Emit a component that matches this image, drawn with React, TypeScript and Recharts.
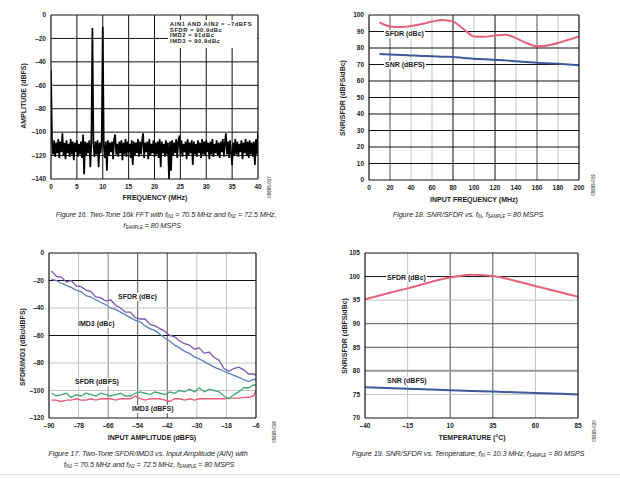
import React from 'react';
import { LineChart, Line, XAxis, YAxis, ReferenceLine } from 'recharts';

// Figure 16: two-tone FFT, amplitude (dBFS) every 0.2 MHz from 0 to 40 MHz
const fftStep = 0.2;
const fftAmp = [
    -47, -108, -119, -107, -121, -109, -118, -106, -122, -108,
    -117, -101, -120, -109, -123, -107, -118, -110, -121, -106,
    -119, -108, -124, -109, -117, -107, -121, -110, -119, -108,
    -122, -102, -136, -108, -120, -109, -118, -107, -130, -109,
    -11, -110, -121, -108, -119, -107, -130, -109, -118, -106,
    -10, -111, -122, -108, -133, -107, -120, -109, -117, -108,
    -123, -106, -102, -119, -110, -121, -108, -118, -107, -124,
    -109, -119, -106, -121, -108, -117, -110, -122, -107, -128,
    -108, -120, -109, -118, -106, -121, -108, -119, -107, -101,
    -122, -109, -117, -108, -123, -106, -120, -110, -118, -107,
    -121, -109, -119, -108, -122, -106, -130, -108, -118, -110,
    -121, -107, -119, -109, -140, -108, -133, -107, -120, -109,
    -118, -106, -122, -108, -103, -119, -107, -121, -110, -117,
    -108, -123, -106, -120, -109, -118, -107, -128, -108, -119,
    -110, -121, -107, -118, -109, -122, -106, -119, -108, -120,
    -107, -117, -109, -123, -108, -119, -106, -121, -110, -118,
    -107, -120, -109, -122, -108, -117, -106, -121, -109, -101,
    -119, -108, -122, -107, -118, -128, -109, -120, -106, -119,
    -108, -121, -110, -117, -107, -123, -109, -118, -106, -120,
    -108, -122, -107, -119, -109, -121, -108, -128, -106, -119,
    -101,
];
const fftNotes = ['AIN1 AND AIN2 = –7dBFS', 'SFDR = 90.9dBc', 'IMD2 = 91dBc', 'IMD3 = 90.9dBc'];

// Figure 18: SNR/SFDR vs input frequency
const inFreq = [10, 20, 30, 40, 50, 60, 70, 80, 90, 100, 110, 120, 130, 140, 150, 160, 170, 180, 190, 200];
const sfdrVsFreq = [95.6, 93.1, 92.7, 93.3, 94.5, 96, 97, 96, 91.5, 87, 86.8, 87.5, 88, 86, 83, 81, 81.5, 83, 85, 87];
const snrVsFreq = [76.3, 76, 75.8, 75.5, 75.2, 75, 74.7, 74.5, 74, 73.5, 73.2, 72.8, 72.5, 72, 71.5, 71, 70.7, 70.4, 70, 69.5];

// Figure 17: two-tone SFDR/IMD3 vs input amplitude
const ampIn = [
    -89, -87, -85, -83, -81, -79, -77, -75, -73, -71, -69, -67, -65, -63, -61, -59, -57, -55, -53, -51, -49,
    -47, -45, -43, -41, -39, -37, -35, -33, -31, -29, -27, -25, -23, -21, -19, -17, -15, -13, -11, -9, -7, -6,
];
const sfdrDbc = [
    -13, -17, -17.5, -21, -20, -24, -24.5, -27, -28, -32, -32.5, -35, -34, -38, -40, -43, -43, -47, -48, -48, -52,
    -53, -55, -57, -60, -61, -64, -66, -67, -70, -69, -73, -72, -76, -78, -84, -86, -84, -83, -85, -88, -88, -89,
];
const imd3Dbc = [
    -19, -20, -22, -23.5, -25, -27, -28, -31, -32, -34, -36, -37.5, -40, -41, -43, -45, -47, -49, -50, -53, -55,
    -56.5, -59, -62, -64, -67, -69, -71.5, -73, -75.5, -77, -79, -81, -83, -84.5, -86, -87.5, -89, -90.5, -92, -93.5, -92, -92,
];
const sfdrDbfs = [
    -102, -104, -103, -102, -105, -103, -104, -102, -103, -104, -102, -103, -104, -103, -102, -104, -104, -102, -101, -102, -103,
    -101, -102, -103, -101, -102, -100, -101, -99, -101, -98, -101, -99, -100, -101, -104, -106, -103, -101, -98, -98, -96, -96,
];
const imd3Dbfs = [
    -107, -107, -108, -107, -107, -106, -107, -107, -106, -107, -106, -106, -106, -107, -106, -106, -106, -104, -106, -107, -106,
    -106, -106, -107, -108, -106, -106, -107, -106, -107, -106, -106, -106, -106, -106, -106, -105.5, -105.5, -105.5, -105, -105, -104, -100,
];

// Figure 19: SNR/SFDR vs temperature
const temps = [-40, -15, 10, 22.5, 35, 60, 85];
const sfdrVsTemp = [95.2, 97.5, 99.8, 100.4, 100.1, 98, 95.7];
const snrVsTemp = [76.5, 76.2, 75.9, 75.75, 75.6, 75.3, 75.0];

const FONT = '"Liberation Sans", Arial, Helvetica, sans-serif';
const tickStyle = { fill: '#1c1c1c', fontSize: 6.5, fontWeight: 700, fontFamily: FONT };
const fmt = (v: number) => (v < 0 ? `–${Math.abs(v)}` : `${v}`);

const BLACK = '#111';
const DARK = '#555';
const LIGHT = '#c4c4c4';

const vLines = (lines: [number, string, number?][]) =>
    lines.map(([v, c, w]) => <ReferenceLine key={`v${v}`} x={v} stroke={c} strokeWidth={w || 1} />);
const hLines = (lines: [number, string, number?][]) =>
    lines.map(([v, c, w]) => <ReferenceLine key={`h${v}`} y={v} stroke={c} strokeWidth={w || 1} />);

type PanelProps = {
    left: number;
    top: number;
    w: number;
    h: number;
    data: any[];
    xDomain: [number, number];
    yDomain: [number, number];
    xTicks: number[];
    yTicks: number[];
    children: React.ReactNode;
};

const Panel = ({ left, top, w, h, data, xDomain, yDomain, xTicks, yTicks, children }: PanelProps) => (
    <div style={{ position: 'absolute', left: left - 45, top: top - 10 }}>
        <LineChart width={w + 55} height={h + 30} data={data} margin={{ top: 10, right: 10, bottom: 0, left: 0 }}>
            <XAxis
                type="number"
                dataKey="x"
                domain={xDomain}
                ticks={xTicks}
                allowDataOverflow
                axisLine={false}
                tickLine={false}
                tickSize={3}
                height={20}
                tick={tickStyle}
                tickFormatter={fmt}
                interval={0}
            />
            <YAxis
                type="number"
                domain={yDomain}
                ticks={yTicks}
                allowDataOverflow
                axisLine={false}
                tickLine={false}
                tickSize={3}
                width={45}
                tick={tickStyle}
                tickFormatter={fmt}
                interval={0}
            />
            {children}
            <ReferenceLine x={xDomain[0]} stroke={BLACK} strokeWidth={1.2} />
            <ReferenceLine x={xDomain[1]} stroke={BLACK} strokeWidth={1.2} />
            <ReferenceLine y={yDomain[0]} stroke={BLACK} strokeWidth={1.2} />
            <ReferenceLine y={yDomain[1]} stroke={BLACK} strokeWidth={1.2} />
        </LineChart>
    </div>
);

const Tag = ({ x, y, text }: { x: number; y: number; text: string }) => (
    <div
        style={{
            position: 'absolute',
            left: x,
            top: y,
            transform: 'translateY(-50%)',
            background: '#fff',
            padding: '0 1px',
            fontFamily: FONT,
            fontSize: 7,
            fontWeight: 700,
            color: '#1c1c1c',
            lineHeight: '8px',
            whiteSpace: 'nowrap',
        }}
    >
        {text}
    </div>
);

const AxisTitle = ({ x, y, text, rotate }: { x: number; y: number; text: string; rotate?: boolean }) => (
    <div
        style={{
            position: 'absolute',
            left: x,
            top: y,
            transform: `translate(-50%, -50%)${rotate ? ' rotate(-90deg)' : ''}`,
            fontFamily: FONT,
            fontSize: 7,
            fontWeight: 700,
            color: '#1c1c1c',
            whiteSpace: 'nowrap',
        }}
    >
        {text}
    </div>
);

const Caption = ({ x, y, children }: { x: number; y: number; children: React.ReactNode }) => (
    <div
        style={{
            position: 'absolute',
            left: x,
            top: y,
            transform: 'translate(-50%, -50%)',
            fontFamily: FONT,
            fontSize: 7.4,
            fontStyle: 'italic',
            color: '#2a2a2a',
            whiteSpace: 'nowrap',
            letterSpacing: '-0.15px',
        }}
    >
        {children}
    </div>
);

const Sub = ({ t }: { t: string }) => <sub style={{ fontSize: 4.5, verticalAlign: '-1px' }}>{t}</sub>;

const FigId = ({ x, y, text }: { x: number; y: number; text: string }) => (
    <div
        style={{
            position: 'absolute',
            left: x,
            top: y,
            transform: 'translate(-50%, -50%) rotate(-90deg)',
            fontFamily: FONT,
            fontSize: 4.5,
            fontWeight: 700,
            color: '#666',
            whiteSpace: 'nowrap',
        }}
    >
        {text}
    </div>
);

const App = () => {
    const fftData = fftAmp.map((a, i) => ({ x: Math.round(i * fftStep * 10) / 10, a }));
    const freqData = inFreq.map((x, i) => ({ x, sfdr: sfdrVsFreq[i], snr: snrVsFreq[i] }));
    const ampData = ampIn.map((x, i) => ({
        x,
        sfdrDbc: sfdrDbc[i],
        imd3Dbc: imd3Dbc[i],
        sfdrDbfs: sfdrDbfs[i],
        imd3Dbfs: imd3Dbfs[i],
    }));
    const tempData = temps.map((x, i) => ({ x, sfdr: sfdrVsTemp[i], snr: snrVsTemp[i] }));

    return (
        <div style={{ position: 'absolute', left: 0, top: 0, width: 620, height: 479, background: '#fff', overflow: 'hidden' }}>
            {/* Figure 16 */}
            <Panel
                left={51}
                top={15}
                w={207}
                h={164}
                data={fftData}
                xDomain={[0, 40]}
                yDomain={[-140, 0]}
                xTicks={[0, 5, 10, 15, 20, 25, 30, 35, 40]}
                yTicks={[0, -20, -40, -60, -80, -100, -120, -140]}
            >
                {vLines([[5, BLACK], [10, BLACK], [15, BLACK], [20, BLACK], [25, BLACK], [30, BLACK], [35, BLACK]])}
                {hLines([[-20, BLACK], [-40, BLACK], [-60, BLACK], [-80, BLACK], [-100, BLACK], [-120, BLACK]])}
                <Line type="linear" dataKey="a" stroke="#000" strokeWidth={1.7} dot={false} isAnimationActive={false} />
            </Panel>
            <div
                style={{
                    position: 'absolute',
                    left: 168,
                    top: 20,
                    width: 89,
                    height: 28,
                    background: '#fff',
                    fontFamily: FONT,
                    fontSize: 5.8,
                    fontWeight: 700,
                    lineHeight: '5.7px',
                    letterSpacing: '0.55px',
                    color: '#1c1c1c',
                    paddingLeft: 2,
                    paddingTop: 2,
                    boxSizing: 'border-box',
                    whiteSpace: 'nowrap',
                }}
            >
                {fftNotes.map((n) => (
                    <div key={n}>{n}</div>
                ))}
            </div>
            <AxisTitle x={23} y={96} text="AMPLITUDE (dBFS)" rotate />
            <AxisTitle x={155} y={197} text="FREQUENCY (MHz)" />
            <Caption x={166} y={214}>
                Figure 16. Two-Tone 16k FFT with f<Sub t="IN1" /> = 70.5 MHz and f<Sub t="IN2" /> = 72.5 MHz,
            </Caption>
            <Caption x={152} y={225}>
                f<Sub t="SAMPLE" /> = 80 MSPS
            </Caption>
            <FigId x={269} y={187} text="05695-017" />

            {/* Figure 18 */}
            <Panel
                left={369}
                top={15}
                w={210}
                h={165}
                data={freqData}
                xDomain={[0, 200]}
                yDomain={[0, 100]}
                xTicks={[0, 20, 40, 60, 80, 100, 120, 140, 160, 180, 200]}
                yTicks={[0, 10, 20, 30, 40, 50, 60, 70, 80, 90, 100]}
            >
                {vLines([[20, DARK], [40, LIGHT], [60, LIGHT], [80, BLACK], [100, LIGHT], [120, BLACK], [140, LIGHT], [160, DARK], [180, LIGHT]])}
                {hLines([[10, BLACK], [20, BLACK], [30, BLACK], [40, BLACK], [50, BLACK], [60, BLACK], [70, BLACK], [80, BLACK], [90, BLACK]])}
                <Line type="monotone" dataKey="sfdr" stroke="#e8607e" strokeWidth={2} dot={false} isAnimationActive={false} />
                <Line type="monotone" dataKey="snr" stroke="#3a5a9c" strokeWidth={2} dot={false} isAnimationActive={false} />
            </Panel>
            <Tag x={384} y={34} text="SFDR (dBc)" />
            <Tag x={384} y={65} text="SNR (dBFS)" />
            <AxisTitle x={342} y={98} text="SNR/SFDR (dBFS/dBc)" rotate />
            <AxisTitle x={474} y={199} text="INPUT FREQUENCY (MHz)" />
            <Caption x={468} y={214}>
                Figure 18. SNR/SFDR vs. f<Sub t="IN" />, f<Sub t="SAMPLE" /> = 80 MSPS
            </Caption>
            <FigId x={593} y={185} text="05695-019" />

            {/* Figure 17 */}
            <Panel
                left={49}
                top={253}
                w={207}
                h={165}
                data={ampData}
                xDomain={[-90, -6]}
                yDomain={[-120, 0]}
                xTicks={[-90, -78, -66, -54, -42, -30, -18, -6]}
                yTicks={[0, -20, -40, -60, -80, -100, -120]}
            >
                {vLines([[-78, LIGHT], [-66, '#888'], [-54, DARK], [-42, DARK], [-30, LIGHT], [-18, LIGHT]])}
                {hLines([[-20, BLACK], [-40, LIGHT], [-60, BLACK], [-80, LIGHT], [-100, LIGHT]])}
                <Line type="linear" dataKey="imd3Dbfs" stroke="#ec5878" strokeWidth={1.3} dot={false} isAnimationActive={false} />
                <Line type="linear" dataKey="sfdrDbfs" stroke="#45a878" strokeWidth={1.3} dot={false} isAnimationActive={false} />
                <Line type="linear" dataKey="imd3Dbc" stroke="#5a80c4" strokeWidth={1.3} dot={false} isAnimationActive={false} />
                <Line type="linear" dataKey="sfdrDbc" stroke="#7a58b0" strokeWidth={1.3} dot={false} isAnimationActive={false} />
            </Panel>
            <Tag x={117} y={297} text="SFDR (dBc)" />
            <Tag x={77} y={324} text="IMD3 (dBc)" />
            <Tag x={74} y={382} text="SFDR (dBFS)" />
            <Tag x={131} y={409} text="IMD3 (dBFS)" />
            <AxisTitle x={22} y={347} text="SFDR/IMD3 (dBc/dBFS)" rotate />
            <AxisTitle x={152} y={437} text="INPUT AMPLITUDE (dBFS)" />
            <Caption x={148} y={453}>
                Figure 17. Two-Tone SFDR/IMD3 vs. Input Amplitude (AIN) with
            </Caption>
            <Caption x={149} y={464}>
                f<Sub t="IN1" /> = 70.5 MHz and f<Sub t="IN2" /> = 72.5 MHz, f<Sub t="SAMPLE" /> = 80 MSPS
            </Caption>
            <FigId x={274} y={432} text="05695-018" />

            {/* Figure 19 */}
            <Panel
                left={365}
                top={253}
                w={213}
                h={165}
                data={tempData}
                xDomain={[-40, 85]}
                yDomain={[70, 105]}
                xTicks={[-40, -15, 10, 35, 60, 85]}
                yTicks={[70, 75, 80, 85, 90, 95, 100, 105]}
            >
                {vLines([[-15, LIGHT], [10, DARK], [35, DARK], [60, LIGHT]])}
                {hLines([[75, LIGHT], [80, '#999', 2], [85, DARK], [90, DARK], [95, LIGHT], [100, BLACK]])}
                <Line type="monotone" dataKey="sfdr" stroke="#e8607e" strokeWidth={2} dot={false} isAnimationActive={false} />
                <Line type="monotone" dataKey="snr" stroke="#3a5a9c" strokeWidth={2} dot={false} isAnimationActive={false} />
            </Panel>
            <Tag x={386} y={278} text="SFDR (dBc)" />
            <Tag x={386} y={381} text="SNR (dBFS)" />
            <AxisTitle x={344} y={336} text="SNR/SFDR (dBFS/dBc)" rotate />
            <AxisTitle x={472} y={437} text="TEMPERATURE (°C)" />
            <Caption x={468} y={453}>
                Figure 19. SNR/SFDR vs. Temperature, f<Sub t="IN" /> = 10.3 MHz, f<Sub t="SAMPLE" /> = 80 MSPS
            </Caption>
            <FigId x={594} y={431} text="05695-020" />

            <div style={{ position: 'absolute', left: 0, top: 474, width: 620, height: 1, background: '#e2e2e2' }} />
        </div>
    );
};

export default App;
